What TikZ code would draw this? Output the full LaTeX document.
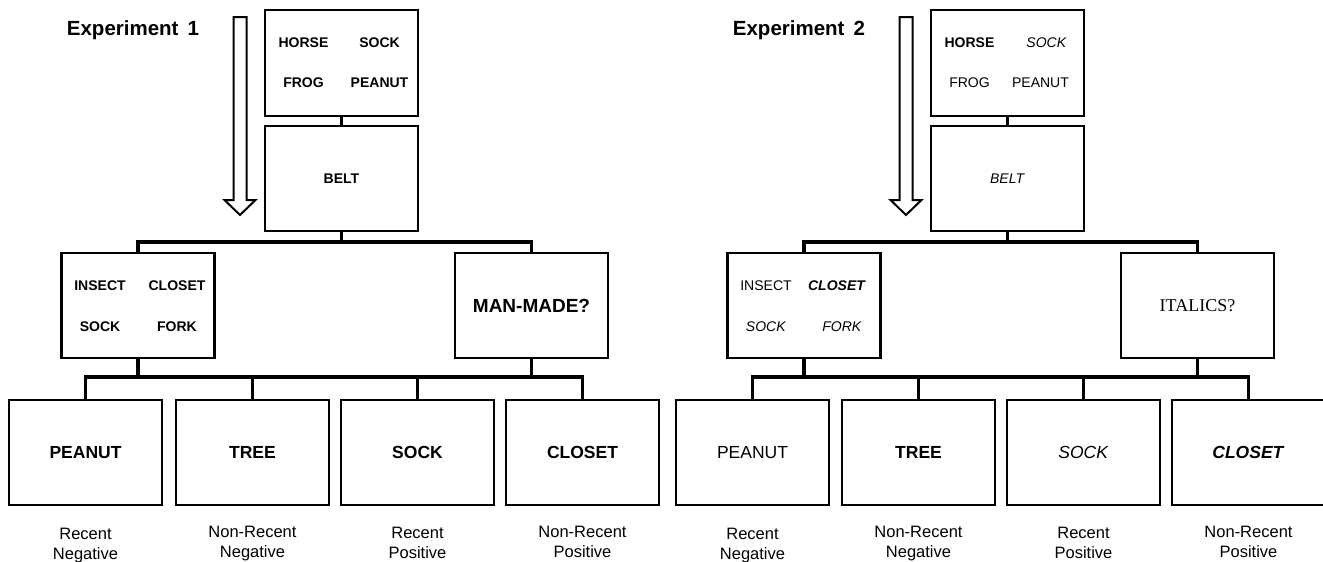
\documentclass[tikz,border=0pt]{standalone}
\usepackage{fontspec}
\setmainfont{Liberation Sans}
\newfontfamily\fragefont{Liberation Serif}
\usetikzlibrary{positioning}

\begin{document}
\begin{tikzpicture}[x=1pt,y=-1pt,line join=miter,
  box/.style={draw,line width=2.2pt,minimum width=153pt,minimum height=105pt,inner sep=0pt},
  word/.style={inner sep=0pt,font=\fontsize{14}{16}\selectfont},
  big/.style={font=\fontsize{17.5}{20}\selectfont},
  conn/.style={line width=3.2pt},
  lbl/.style={align=center,inner sep=0pt,font=\fontsize{16.5}{19.5}\selectfont},
  titel/.style={font=\bfseries\fontsize{20.5}{23}\selectfont}]
\clip (0,0) rectangle (1323,562);
% Experiment 1
\node[titel] (e1titel) at (133,30) {Experiment\ \,1};
\draw[line width=2pt] (233.5,17) -- (246.5,17) -- (246.5,200) -- (255.5,200) -- (240,215) -- (224.5,200) -- (233.5,200) -- cycle;
\node[box,minimum height=106pt] (e1top) at (341.5,63) {};
\node[word] at ([shift={(-38,-20)}]e1top) {\textbf{HORSE}};
\node[word] at ([shift={(38,-20)}]e1top) {\textbf{SOCK}};
\node[word] at ([shift={(-38,20)}]e1top) {\textbf{FROG}};
\node[word] at ([shift={(38,20)}]e1top) {\textbf{PEANUT}};
\node[box,word] (e1belt) at (341.5,178.5) {\textbf{BELT}};
\node[box] (e1set) at (138,305.5) {};
\node[word] at ([shift={(-38,-19.5)}]e1set) {\textbf{INSECT}};
\node[word] at ([shift={(39,-19.5)}]e1set) {\textbf{CLOSET}};
\node[word] at ([shift={(-38,21.5)}]e1set) {\textbf{SOCK}};
\node[word] at ([shift={(39,21.5)}]e1set) {\textbf{FORK}};
\node[box,font=\fontsize{19}{22}\selectfont] (e1frage) at (531.5,305.5) {\textbf{MAN-MADE?}};
\node[box,big] (e1b1) at (85.5,452.5) {\textbf{PEANUT}};
\node[box,big] (e1b2) at (252.5,452.5) {\textbf{TREE}};
\node[box,big] (e1b3) at (417.5,452.5) {\textbf{SOCK}};
\node[box,big] (e1b4) at (582.5,452.5) {\textbf{CLOSET}};
\node[lbl,below=22pt of e1b1] {Recent\\Negative};
\node[lbl,below=20pt of e1b2] {Non-Recent\\Negative};
\node[lbl,below=21pt of e1b3] {Recent\\Positive};
\node[lbl,below=20pt of e1b4] {Non-Recent\\Positive};
\draw[conn] (e1top) -- (e1belt);
\draw[conn] (e1belt.south) -- ++(0,12);
\draw[conn] (e1set.north) -- ++(0,-10) -| (e1frage.north);
\draw[conn] (e1set.south) -- ++(0,20);
\draw[conn] (e1frage.south) -- ++(0,20);
\draw[conn] (e1b1.north) -- ++(0,-22) -| (e1b4.north);
\draw[conn] (e1b2.north) -- ++(0,-22);
\draw[conn] (e1b3.north) -- ++(0,-22);
% Experiment 2
\node[titel] (e2titel) at (799,30) {Experiment\ \,2};
\draw[line width=2pt] (899.5,17) -- (912.5,17) -- (912.5,200) -- (921.5,200) -- (906,215) -- (890.5,200) -- (899.5,200) -- cycle;
\node[box,minimum height=106pt] (e2top) at (1007.5,63) {};
\node[word] at ([shift={(-38,-20)}]e2top) {\textbf{HORSE}};
\node[word] at ([shift={(39,-20)}]e2top) {\textit{SOCK}};
\node[word] at ([shift={(-38,20)}]e2top) {FROG};
\node[word] at ([shift={(33,20)}]e2top) {PEANUT};
\node[box,word] (e2belt) at (1007.5,178.5) {\textit{BELT}};
\node[box] (e2set) at (804,305.5) {};
\node[word] at ([shift={(-38,-19.5)}]e2set) {INSECT};
\node[word] at ([shift={(33,-19.5)}]e2set) {\textbf{\textit{CLOSET}}};
\node[word] at ([shift={(-38,21.5)}]e2set) {\textit{SOCK}};
\node[word] at ([shift={(38,21.5)}]e2set) {\textit{FORK}};
\node[box,font=\fragefont\fontsize{18}{21}\selectfont] (e2frage) at (1197.5,305.5) {ITALICS?};
\node[box,big] (e2b1) at (752.5,452.5) {PEANUT};
\node[box,big] (e2b2) at (918.5,452.5) {\textbf{TREE}};
\node[box,big] (e2b3) at (1083.5,452.5) {\textit{SOCK}};
\node[box,big] (e2b4) at (1248.5,452.5) {\textbf{\textit{CLOSET}}};
\node[lbl,below=22pt of e2b1] {Recent\\Negative};
\node[lbl,below=20pt of e2b2] {Non-Recent\\Negative};
\node[lbl,below=21pt of e2b3] {Recent\\Positive};
\node[lbl,below=20pt of e2b4] {Non-Recent\\Positive};
\draw[conn] (e2top) -- (e2belt);
\draw[conn] (e2belt.south) -- ++(0,12);
\draw[conn] (e2set.north) -- ++(0,-10) -| (e2frage.north);
\draw[conn] (e2set.south) -- ++(0,20);
\draw[conn] (e2frage.south) -- ++(0,20);
\draw[conn] (e2b1.north) -- ++(0,-22) -| (e2b4.north);
\draw[conn] (e2b2.north) -- ++(0,-22);
\draw[conn] (e2b3.north) -- ++(0,-22);
\end{tikzpicture}
\end{document}
